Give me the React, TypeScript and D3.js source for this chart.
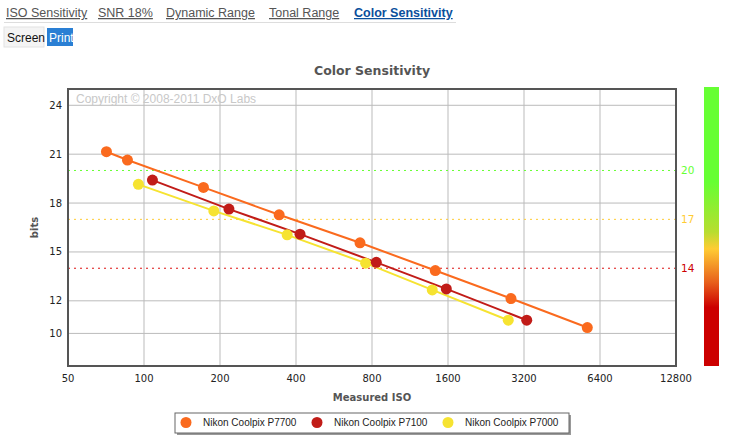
import React, { useEffect, useRef } from 'react';
import * as d3 from 'd3';

// tick values / labels
const xTicks = [50, 100, 200, 400, 800, 1600, 3200, 6400, 12800];
const yTicks = [24, 21, 18, 15, 12, 10];
const refLevels = [20, 17, 14];
const tabs = ['ISO Sensitivity', 'SNR 18%', 'Dynamic Range', 'Tonal Range', 'Color Sensitivity'];

// measured data (ISO, bits)
const p7700Iso = [71, 86, 172, 343, 717, 1425, 2842, 5700];
const p7700Bits = [21.15, 20.64, 18.96, 17.28, 15.56, 13.86, 12.14, 10.36];
const p7100Iso = [108, 217, 415, 832, 1576, 3281];
const p7100Bits = [19.41, 17.63, 16.09, 14.36, 12.73, 10.81];
const p7000Iso = [95, 189, 369, 755, 1386, 2772];
const p7000Bits = [19.15, 17.52, 16.05, 14.31, 12.67, 10.81];

const cameras = [
  { name: 'Nikon Coolpix P7700', color: '#fa6a1e', iso: p7700Iso, bits: p7700Bits },
  { name: 'Nikon Coolpix P7100', color: '#c11c18', iso: p7100Iso, bits: p7100Bits },
  { name: 'Nikon Coolpix P7000', color: '#f6e331', iso: p7000Iso, bits: p7000Bits },
];

const refColors = ['#66ff33', '#ffcc33', '#dd1111'];

const App = () => {
  const svgRef = useRef(null);

  useEffect(() => {
    const width = 739;
    const height = 443;
    const margin = { top: 89, right: 63, bottom: 77, left: 68 };
    const innerW = width - margin.left - margin.right;
    const innerH = height - margin.top - margin.bottom;

    const svg = d3.select(svgRef.current)
      .attr('width', width)
      .attr('height', height);
    svg.selectAll('*').remove();

    // 상단 탭
    const tabX = [6, 98, 166, 269, 354];
    tabs.forEach((t, i) => {
      svg.append('text')
        .attr('x', tabX[i])
        .attr('y', 17)
        .style('font-family', '"Liberation Sans", Arial, sans-serif')
        .style('font-size', '12.5px')
        .style('fill', i === 4 ? '#0b4f9c' : '#555')
        .style('font-weight', i === 4 ? 'bold' : 'normal')
        .style('text-decoration', 'underline')
        .text(t);
    });
    svg.append('line')
      .attr('x1', 4).attr('x2', 456)
      .attr('y1', 22.5).attr('y2', 22.5)
      .style('stroke', '#ddd');

    svg.append('rect').attr('x', 4).attr('y', 27).attr('width', 40).attr('height', 20)
      .style('fill', '#f4f4f4').style('stroke', '#e2e2e2');
    svg.append('text').attr('x', 7).attr('y', 42)
      .style('font-family', '"Liberation Sans", Arial, sans-serif').style('font-size', '12px')
      .style('fill', '#111').text('Screen');
    svg.append('rect').attr('x', 47).attr('y', 28).attr('width', 26).attr('height', 18)
      .style('fill', '#2a7fd4');
    svg.append('text').attr('x', 49).attr('y', 42)
      .style('font-family', '"Liberation Sans", Arial, sans-serif').style('font-size', '12px')
      .style('fill', '#fff').text('Print');

    // 제목
    svg.append('text')
      .attr('x', margin.left + innerW / 2)
      .attr('y', 75)
      .attr('text-anchor', 'middle')
      .style('font-family', '"DejaVu Sans", Verdana, sans-serif')
      .style('font-size', '12.5px')
      .style('font-weight', 'bold')
      .style('fill', '#555')
      .text('Color Sensitivity');

    const xScale = d3.scaleLog().base(2).domain([50, 12800]).range([0, innerW]);
    const yScale = d3.scaleLinear().domain([8, 25]).range([innerH, 0]);

    const g = svg.append('g').attr('transform', `translate(${margin.left},${margin.top})`);

    // 그리드
    g.selectAll('.vgrid').data(xTicks.slice(1, -1)).enter().append('line')
      .attr('x1', d => xScale(d)).attr('x2', d => xScale(d))
      .attr('y1', 0).attr('y2', innerH)
      .style('stroke', '#bbb').style('stroke-width', 1);
    g.selectAll('.hgrid').data(yTicks).enter().append('line')
      .attr('x1', 0).attr('x2', innerW)
      .attr('y1', d => yScale(d)).attr('y2', d => yScale(d))
      .style('stroke', '#bbb').style('stroke-width', 1);

    // copyright
    g.append('text')
      .attr('x', 8).attr('y', 14)
      .style('font-family', '"Liberation Sans", Arial, sans-serif')
      .style('font-size', '12px')
      .style('fill', '#c8c8c8')
      .text('Copyright © 2008-2011 DxO Labs');

    // 기준선
    refLevels.forEach((v, i) => {
      g.append('line')
        .attr('x1', 0).attr('x2', innerW)
        .attr('y1', yScale(v)).attr('y2', yScale(v))
        .style('stroke', refColors[i])
        .style('stroke-width', 1)
        .style('stroke-dasharray', '2,4');
      g.append('text')
        .attr('x', innerW + 5).attr('y', yScale(v))
        .attr('dy', '0.35em')
        .style('font-family', '"DejaVu Sans", Verdana, sans-serif')
        .style('font-size', '10.5px')
        .style('fill', i === 2 ? '#cc0000' : refColors[i])
        .text(v);
    });

    // 라인 + 점
    const line = d3.line()
      .x(d => xScale(d[0]))
      .y(d => yScale(d[1]));

    [...cameras].reverse().forEach(c => {
      const pts = c.iso.map((v, i) => [v, c.bits[i]]);
      g.append('path')
        .datum(pts)
        .attr('d', line)
        .attr('fill', 'none')
        .attr('stroke', c.color)
        .attr('stroke-width', 2);
    });
    [...cameras].reverse().forEach(c => {
      const pts = c.iso.map((v, i) => [v, c.bits[i]]);
      g.selectAll(null).data(pts).enter().append('circle')
        .attr('cx', d => xScale(d[0]))
        .attr('cy', d => yScale(d[1]))
        .attr('r', 5.5)
        .style('fill', c.color);
    });

    // 프레임
    g.append('rect')
      .attr('x', 0).attr('y', 0)
      .attr('width', innerW).attr('height', innerH)
      .style('fill', 'none')
      .style('stroke', '#555')
      .style('stroke-width', 2);

    // 축 라벨
    g.selectAll('.xt').data(xTicks).enter().append('text')
      .attr('x', d => xScale(d))
      .attr('y', innerH + 16)
      .attr('text-anchor', 'middle')
      .style('font-family', '"DejaVu Sans", Verdana, sans-serif')
      .style('font-size', '10px')
      .style('fill', '#222')
      .text(d => d);
    g.selectAll('.yt').data(yTicks).enter().append('text')
      .attr('x', -6)
      .attr('y', d => yScale(d))
      .attr('dy', '0.35em')
      .attr('text-anchor', 'end')
      .style('font-family', '"DejaVu Sans", Verdana, sans-serif')
      .style('font-size', '10px')
      .style('fill', '#222')
      .text(d => d);

    svg.append('text')
      .attr('x', margin.left + innerW / 2)
      .attr('y', 401)
      .attr('text-anchor', 'middle')
      .style('font-family', '"DejaVu Sans", Verdana, sans-serif')
      .style('font-size', '10px')
      .style('font-weight', 'bold')
      .style('fill', '#555')
      .text('Measured ISO');
    svg.append('text')
      .attr('transform', `translate(38,${margin.top + innerH / 2}) rotate(-90)`)
      .attr('text-anchor', 'middle')
      .style('font-family', '"DejaVu Sans", Verdana, sans-serif')
      .style('font-size', '10px')
      .style('font-weight', 'bold')
      .style('fill', '#555')
      .text('bits');

    // 컬러바
    const defs = svg.append('defs');
    const grad = defs.append('linearGradient')
      .attr('id', 'cbar')
      .attr('x1', 0).attr('y1', 0).attr('x2', 0).attr('y2', 1);
    [[0, '#66ff33'], [0.34, '#66ff33'], [0.52, '#b8dd30'], [0.58, '#ffcc33'], [0.7, '#e8601c'], [0.79, '#cc0000'], [1, '#cc0000']]
      .forEach(([o, c]) => grad.append('stop').attr('offset', o).attr('stop-color', c));
    svg.append('rect')
      .attr('x', 704).attr('y', 87)
      .attr('width', 15).attr('height', 279)
      .style('fill', 'url(#cbar)');

    // 범례
    const lg = svg.append('g').attr('transform', 'translate(175,413)');
    lg.append('rect').attr('x', 2).attr('y', 2).attr('width', 394).attr('height', 20)
      .style('fill', '#999');
    lg.append('rect').attr('x', 0).attr('y', 0).attr('width', 394).attr('height', 20)
      .style('fill', '#fff').style('stroke', '#666').style('stroke-width', 1);
    const legX = [11, 142, 273];
    cameras.forEach((c, i) => {
      lg.append('circle').attr('cx', legX[i]).attr('cy', 9.5).attr('r', 5.5).style('fill', c.color);
      lg.append('text')
        .attr('x', legX[i] + 17).attr('y', 9.5)
        .attr('dy', '0.35em')
        .style('font-family', '"Liberation Sans", Arial, sans-serif')
        .style('font-size', '10px')
        .style('fill', '#222')
        .text(c.name);
    });
  }, []);

  return (
    <div style={{ position: 'absolute', left: 0, top: 0 }}>
      <svg ref={svgRef} style={{ display: 'block' }}></svg>
    </div>
  );
};

export default App;
